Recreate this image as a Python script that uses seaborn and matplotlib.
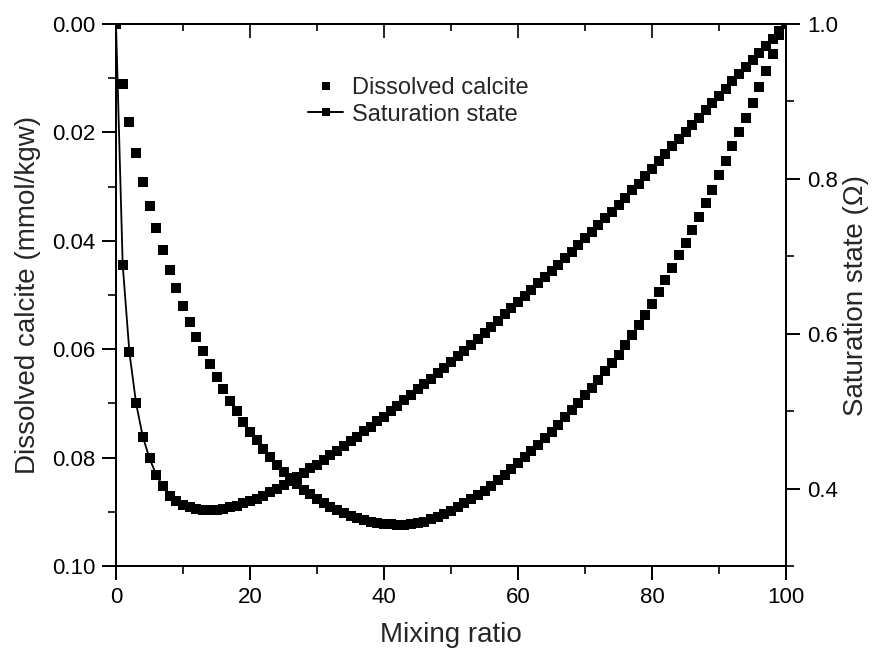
import matplotlib
matplotlib.use("Agg")
import matplotlib.pyplot as plt
import numpy as np
import pandas as pd
import seaborn as sns
from matplotlib.ticker import MultipleLocator, FormatStrFormatter
from matplotlib.lines import Line2D

# ---------------- data ----------------
mixing_ratio = list(range(0, 101))

dissolved_calcite = [
    0.0000, 0.0111, 0.0181, 0.0238, 0.0291, 0.0336, 0.0377, 0.0417, 0.0454, 0.0488,
    0.0520, 0.0549, 0.0577, 0.0603, 0.0628, 0.0651, 0.0673, 0.0695, 0.0714, 0.0734,
    0.0752, 0.0768, 0.0784, 0.0799, 0.0813, 0.0826, 0.0838, 0.0849, 0.0859, 0.0868,
    0.0876, 0.0884, 0.0891, 0.0897, 0.0903, 0.0908, 0.0912, 0.0915, 0.0918, 0.0920,
    0.0922, 0.0923, 0.0924, 0.0924, 0.0923, 0.0921, 0.0918, 0.0914, 0.0909, 0.0904,
    0.0898, 0.0891, 0.0884, 0.0877, 0.0869, 0.0861, 0.0852, 0.0842, 0.0832, 0.0821,
    0.0810, 0.0799, 0.0788, 0.0776, 0.0764, 0.0752, 0.0739, 0.0726, 0.0713, 0.0699,
    0.0685, 0.0671, 0.0656, 0.0641, 0.0626, 0.0610, 0.0592, 0.0574, 0.0555, 0.0536,
    0.0516, 0.0495, 0.0472, 0.0450, 0.0427, 0.0404, 0.0380, 0.0356, 0.0331, 0.0306,
    0.0279, 0.0253, 0.0226, 0.0200, 0.0173, 0.0146, 0.0117, 0.0087, 0.0055, 0.0020,
    0.0000,
]

saturation_state = [
    1.000, 0.689, 0.576, 0.510, 0.467, 0.439, 0.418, 0.403, 0.391, 0.384,
    0.379, 0.376, 0.374, 0.372, 0.372, 0.372, 0.374, 0.376, 0.378, 0.381,
    0.384, 0.387, 0.391, 0.395, 0.400, 0.405, 0.410, 0.415, 0.420, 0.426,
    0.431, 0.437, 0.443, 0.449, 0.455, 0.461, 0.467, 0.474, 0.480, 0.487,
    0.493, 0.500, 0.507, 0.514, 0.521, 0.528, 0.535, 0.542, 0.549, 0.556,
    0.563, 0.571, 0.578, 0.586, 0.593, 0.601, 0.609, 0.617, 0.625, 0.633,
    0.641, 0.649, 0.657, 0.665, 0.673, 0.681, 0.689, 0.698, 0.706, 0.714,
    0.723, 0.731, 0.740, 0.749, 0.757, 0.766, 0.775, 0.785, 0.794, 0.804,
    0.813, 0.823, 0.832, 0.842, 0.851, 0.861, 0.870, 0.879, 0.889, 0.898,
    0.907, 0.916, 0.926, 0.935, 0.944, 0.954, 0.963, 0.972, 0.981, 0.991,
    1.000,
]

series_labels = ["Dissolved calcite", "Saturation state"]
x_label = "Mixing ratio"
y_left_label = "Dissolved calcite (mmol/kgw)"
y_right_label = "Saturation state (\u03a9)"

# ---------------- style ----------------
sns.set_style("ticks")
plt.rcParams['font.family'] = ['Liberation Sans', 'DejaVu Sans']
plt.rcParams['axes.linewidth'] = 1.4
plt.rcParams['axes.edgecolor'] = 'black'

TICK_FS = 16
LABEL_FS = 20

df = pd.DataFrame({"mix": mixing_ratio,
                   "calcite": dissolved_calcite,
                   "omega": saturation_state})

fig = plt.figure(figsize=(8.72, 6.51), dpi=100)
W, H = 872, 651
ax = fig.add_axes([116 / W, 1 - 566 / H, 670 / W, 542 / H])

MS = 6.8
sns.scatterplot(data=df, x="mix", y="calcite", marker="s", color="black",
                s=MS ** 2, linewidth=0, ax=ax, legend=False, zorder=3)

ax2 = ax.twinx()
sns.lineplot(data=df, x="mix", y="omega", color="black", linewidth=1.3,
             marker="s", markersize=MS, markeredgewidth=0, ax=ax2,
             legend=False, zorder=3)

# left axis (inverted)
ax.set_xlim(0, 100)
ax.set_ylim(0.10, 0.0)
ax.xaxis.set_major_locator(MultipleLocator(20))
ax.xaxis.set_minor_locator(MultipleLocator(10))
ax.yaxis.set_major_locator(MultipleLocator(0.02))
ax.yaxis.set_minor_locator(MultipleLocator(0.01))
ax.yaxis.set_major_formatter(FormatStrFormatter('%.2f'))
ax.tick_params(axis='both', which='major', direction='out', length=10,
               width=1.4, labelsize=TICK_FS, colors='black', pad=5)
ax.tick_params(axis='both', which='minor', direction='out', length=6,
               width=1.4)
ax.tick_params(axis='x', top=False)
ax.set_xlabel(x_label, fontsize=LABEL_FS, labelpad=10)
ax.set_ylabel(y_left_label, fontsize=LABEL_FS, labelpad=8)

# top ticks pointing inward
top = ax.secondary_xaxis('top')
top.xaxis.set_major_locator(MultipleLocator(20))
top.xaxis.set_minor_locator(MultipleLocator(10))
top.tick_params(axis='x', which='major', direction='in', length=10, width=1.4,
                labeltop=False)
top.tick_params(axis='x', which='minor', direction='in', length=5, width=1.4)

# right axis
ax2.set_xlim(0, 100)
ax2.set_ylim(0.3, 1.0)
ax2.yaxis.set_minor_locator(MultipleLocator(0.1))
ax2.yaxis.set_major_formatter(FormatStrFormatter('%.1f'))
ax2.set_yticks([0.4, 0.6, 0.8, 1.0])
ax2.tick_params(axis='y', which='major', direction='out', length=10,
                width=1.4, labelsize=TICK_FS, colors='black', pad=5)
ax2.tick_params(axis='y', which='minor', direction='out', length=6, width=1.4)
ax2.set_ylabel(y_right_label, fontsize=LABEL_FS, labelpad=4)
ax2.set_xlabel("")

for a in (ax, ax2):
    for sp in a.spines.values():
        sp.set_visible(True)
        sp.set_linewidth(1.4)
        sp.set_color('black')

# legend
handles = [
    Line2D([], [], linestyle='none', marker='s', color='black',
           markersize=MS * 0.8, markeredgewidth=0),
    Line2D([], [], linestyle='-', linewidth=1.4, marker='s', color='black',
           markersize=MS * 0.8, markeredgewidth=0),
]
fig.legend(handles, series_labels, loc='upper left',
           bbox_to_anchor=(308 / W, 1 - 77 / H), frameon=False,
           fontsize=17, handlelength=1.5, handletextpad=0.35,
           labelspacing=0.2, borderpad=0, borderaxespad=0)

fig.savefig("out.png", dpi=100)
